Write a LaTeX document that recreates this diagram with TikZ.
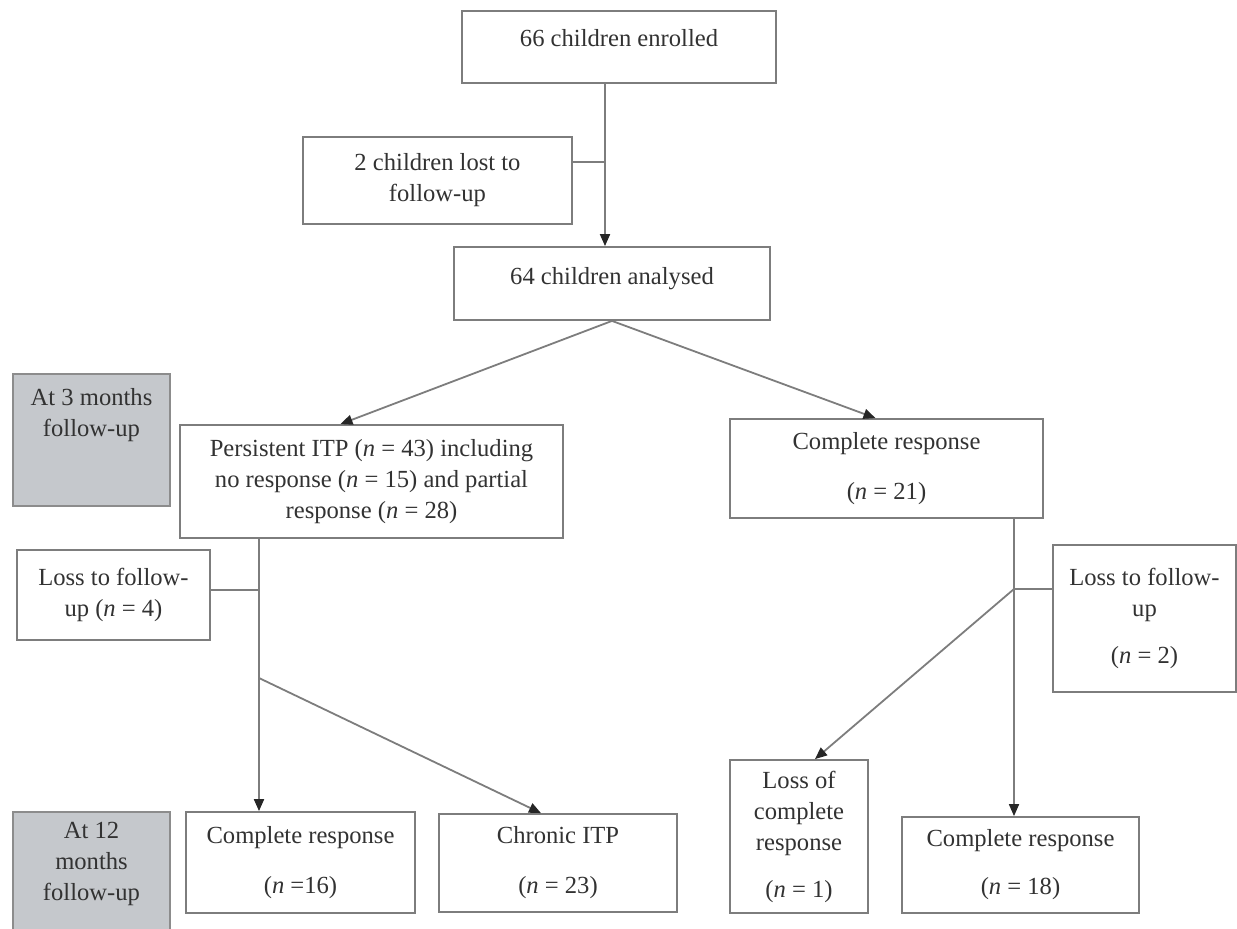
\documentclass[tikz,border=0pt]{standalone}
\usepackage{fontspec}
\setmainfont{Liberation Serif}
\usetikzlibrary{arrows.meta, positioning, calc}
\definecolor{stagegray}{RGB}{197,200,204}
\definecolor{linegray}{RGB}{125,125,125}
\definecolor{txtgray}{RGB}{50,50,50}

\begin{document}
\begin{tikzpicture}[x=0.5pt, y=-0.5pt,
    font=\fontsize{12.3}{15.5}\selectfont, text=txtgray,
    box/.style={draw=linegray, line width=0.9pt, rectangle, align=center, inner sep=0pt},
    stage/.style={box, fill=stagegray, draw=black!45},
    ln/.style={draw=linegray, line width=0.9pt},
    arr/.style={ln, -{Triangle[length=6pt, width=5pt, color=black!85]}}]
    \useasboundingbox (0,0) rectangle (1237,928);
    % top of the flow
    \node[box, minimum width=157pt, minimum height=36pt, text depth=9pt] (enrolled) at (619,47) {66 children enrolled};
    \node[box, minimum width=134.5pt, minimum height=43.5pt] (lost) at (437.5,180.5) {2 children lost to\\follow-up};
    \node[box, minimum width=158pt, minimum height=36.5pt, text depth=8pt] (analysed) at (612,283.5) {64 children analysed};
    % 3 months
    \node[stage, minimum width=78.5pt, minimum height=66pt, text depth=28pt] (stage3) at (91.5,440) {At 3 months\\follow-up};
    \node[box, minimum width=191.5pt, minimum height=56.5pt] (persist) at (371.5,481.5) {Persistent ITP (\textit{n} = 43) including\\no response (\textit{n} = 15) and partial\\response (\textit{n} = 28)};
    \node[box, minimum width=156.5pt, minimum height=49.5pt] (cr3) at (886.5,468.5) {Complete response\\[9.5pt](\textit{n} = 21)};
    \node[box, minimum width=96.5pt, minimum height=45pt] (lossL) at (113.5,595) {Loss to follow-\\up (\textit{n} = 4)};
    \node[box, minimum width=91.5pt, minimum height=73.5pt] (lossR) at (1144.5,618.5) {Loss to follow-\\up\\[8pt](\textit{n} = 2)};
    % 12 months
    \node[stage, minimum width=78.5pt, minimum height=64pt, text depth=14.5pt] (stage12) at (91.5,876) {At 12\\months\\follow-up};
    \node[box, minimum width=114.5pt, minimum height=50.5pt] (crL) at (300.5,862.5) {Complete response\\[9.5pt](\textit{n} =16)};
    \node[box, minimum width=119pt, minimum height=49pt] (chronic) at (558,863) {Chronic ITP\\[9.5pt](\textit{n} = 23)};
    \node[box, minimum width=69pt, minimum height=76.5pt] (losscr) at (799,836.5) {Loss of\\complete\\response\\[8pt](\textit{n} = 1)};
    \node[box, minimum width=118.5pt, minimum height=48pt] (crR) at (1020.5,865) {Complete response\\[8.5pt](\textit{n} = 18)};
    % branch points
    \coordinate (jTop) at (605,162);
    \coordinate (jL) at (259,590);
    \coordinate (kL) at (259,678);
    \coordinate (jR) at (1014,589);
    % connectors
    \draw[arr] (jTop |- enrolled.south) -- (jTop |- analysed.north);
    \draw[ln] (lost.east |- jTop) -- (jTop);
    \draw[arr] (analysed.south) -- ($(persist.north)+(-31,0)$);
    \draw[arr] (analysed.south) -- ($(cr3.north)+(-11,0)$);
    \draw[arr] (jL |- persist.south) -- (jL |- crL.north);
    \draw[ln] (lossL.east |- jL) -- (jL);
    \draw[arr] (kL) -- ($(chronic.north)+(-17,0)$);
    \draw[arr] (jR |- cr3.south) -- (jR |- crR.north);
    \draw[ln] (jR) -- (lossR.west |- jR);
    \draw[arr] (jR) -- ($(losscr.north)+(16,0)$);
\end{tikzpicture}
\end{document}
